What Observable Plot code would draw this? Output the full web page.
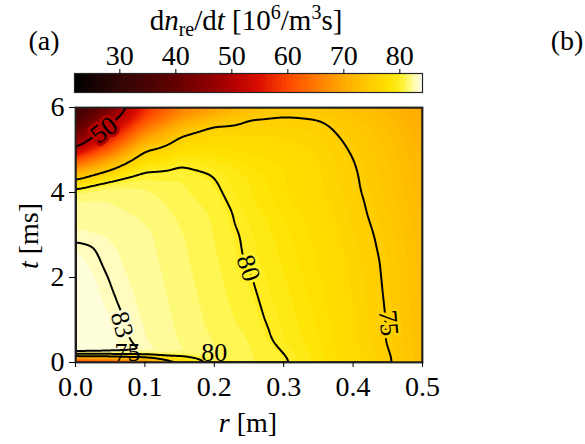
<!DOCTYPE html>
<html><head><meta charset="utf-8">
<script src="https://cdn.jsdelivr.net/npm/d3@7"></script>
<script src="https://cdn.jsdelivr.net/npm/@observablehq/plot@0.6"></script>
<style>
body{margin:0;background:#fff}
#wrap{position:relative;width:585px;height:444px;overflow:hidden;font-family:"Liberation Serif",serif}
#wrap svg{position:absolute;left:0;top:0}
</style></head><body><div id="wrap"></div>
<script>
// grid coordinates
const rValues = [0, 0.05, 0.1, 0.15, 0.2, 0.25, 0.3, 0.35, 0.4, 0.45, 0.5];
const tValues = [0, 0.08, 0.5, 1, 1.5, 2, 2.5, 3, 3.5, 4, 4.25, 4.5, 4.75, 5, 5.25, 5.5, 5.75, 6];
// dn_re/dt [10^6/m^3 s], one row per t value, columns follow rValues
const rate_t0_00 = [22, 28, 40, 65, 79.5, 81, 80.3, 78.6, 76.8, 75.3, 72.8];
const rate_t0_08 = [83.6, 83.5, 83.1, 82.3, 81.5, 80.9, 80.2, 78.7, 76.9, 75.3, 72.8];
const rate_t0_50 = [83.9, 83.4, 82.7, 82.0, 81.4, 80.8, 79.6, 78.4, 76.7, 74.9, 72.8];
const rate_t1_00 = [83.9, 83.3, 82.6, 81.9, 81.2, 80.5, 79.4, 78.2, 76.6, 74.9, 72.6];
const rate_t1_50 = [83.8, 83.1, 82.5, 81.8, 81.1, 80.3, 79.2, 78.0, 76.4, 74.8, 72.5];
const rate_t2_00 = [83.7, 82.95, 82.4, 81.7, 81.0, 80.1, 79.0, 77.8, 76.3, 74.7, 72.4];
const rate_t2_50 = [83.4, 82.8, 82.3, 81.6, 80.9, 79.8, 78.8, 77.6, 76.1, 74.6, 72.3];
const rate_t3_00 = [82.8, 82.6, 82.2, 81.5, 80.8, 79.7, 78.6, 77.4, 75.9, 74.4, 72.2];
const rate_t3_50 = [82.3, 82.2, 81.9, 81.3, 80.7, 79.4, 78.3, 77.1, 75.6, 74.1, 72.0];
const rate_t4_00 = [81.8, 81.9, 81.6, 81.0, 80.3, 79.0, 77.8, 76.6, 75.4, 73.7, 71.7];
const rate_t4_25 = [76.2, 80.6, 81.0, 80.9, 80.1, 79.0, 77.8, 76.6, 75.3, 73.6, 71.6];
const rate_t4_50 = [69.5, 75.6, 80.1, 80.4, 79.85, 78.6, 77.7, 76.6, 75.2, 73.6, 71.5];
const rate_t4_75 = [61, 70, 77.8, 79.6, 78.9, 78.1, 77.4, 76.5, 75.05, 73.4, 71.4];
const rate_t5_00 = [51, 63, 74.8, 77.8, 77.9, 77.5, 77.0, 76.3, 74.8, 73.2, 71.2];
const rate_t5_25 = [45, 57, 70, 75.7, 76.8, 76.8, 76.5, 76.0, 74.5, 73.0, 71.0];
const rate_t5_50 = [40, 51.5, 65, 72.5, 75.8, 76.0, 76.0, 75.6, 74.1, 72.7, 70.7];
const rate_t5_75 = [35, 47, 60, 68, 72.5, 74.9, 75.3, 74.9, 73.6, 72.3, 70.3];
const rate_t6_00 = [30, 43, 57, 65, 68, 72, 73.5, 73.6, 72.8, 71.6, 69.8];

const lineLevels = [50, 75, 80, 83];
const contourLabels = [
  {level: 50, r: 0.041, t: 5.47, angle: -37},
  {level: 80, r: 0.249, t: 2.22, angle: 72},
  {level: 75, r: 0.451, t: 0.93, angle: 85},
  {level: 83, r: 0.067, t: 0.89, angle: 75}
];
const bottomLabels = [
  {level: 75, r: 0.075, t: 0.22},
  {level: 80, r: 0.2, t: 0.22}
];
const xTicks = [0, 0.1, 0.2, 0.3, 0.4, 0.5];
const yTicks = [0, 2, 4, 6];
const cbarTicks = [30, 40, 50, 60, 70, 80];
const cbarDomain = [21.9, 84.05];
const colorStops = [21.9, 26, 30, 35, 40, 45, 50, 55, 60, 65, 70, 75, 78, 80, 81, 82, 83, 84.05];
const colorValues = ["#000000","#1c0303","#330505","#4a0202","#660000","#880000","#b30000","#dd1000","#ff4a00","#ff7c00","#ffad00","#ffd000","#ffe200","#fff02a","#fff760","#fffb98","#fffdd0","#fffff4"];

const rows = [rate_t0_00, rate_t0_08, rate_t0_50, rate_t1_00, rate_t1_50, rate_t2_00, rate_t2_50, rate_t3_00, rate_t3_50, rate_t4_00, rate_t4_25, rate_t4_50, rate_t4_75, rate_t5_00, rate_t5_25, rate_t5_50, rate_t5_75, rate_t6_00];
const points = tValues.flatMap((t, i) => rValues.map((r, j) => ({r, t, v: rows[i][j]})));
const fillLevels = d3.range(cbarDomain[0], cbarDomain[1], 0.62);

const color = {type: "linear", domain: colorStops, range: colorValues, interpolate: "rgb"};
const font = {fontFamily: "Liberation Serif, serif", fontSize: "28px", background: "transparent", color: "black"};
const wrap = document.getElementById("wrap");

const main = Plot.plot({
  width: 585, height: 444,
  marginLeft: 75, marginRight: 163, marginTop: 107, marginBottom: 82,
  style: font,
  x: {domain: [0, 0.5]},
  y: {domain: [0, 6]},
  color,
  marks: [
    Plot.contour(points, {x: "r", y: "t", fill: "v", interpolate: "barycentric", thresholds: fillLevels, stroke: "none", pixelSize: 1, blur: 4}),
    Plot.contour(points, {x: "r", y: "t", value: "v", interpolate: "barycentric", thresholds: lineLevels,
      stroke: "black", strokeWidth: 2, fill: "none", clip: true, pixelSize: 1, blur: 4}),
    Plot.text(contourLabels, {x: "r", y: "t", text: d => String(d.level), rotate: "angle",
      fill: "black", stroke: "level", strokeWidth: 6, paintOrder: "stroke", fontSize: 26}),
    Plot.text(bottomLabels, {x: "r", y: "t", text: d => String(d.level), fill: "black", fontSize: 26}),
    Plot.frame({stroke: "#222", strokeWidth: 1.8}),
    Plot.axisX({ticks: xTicks, tickFormat: d3.format(".1f"), tickSize: 5, tickPadding: 9, label: null}),
    Plot.axisY({ticks: yTicks, tickFormat: d3.format("d"), tickSize: 6, tickPadding: 5, label: null})
  ]
});
wrap.appendChild(main);

const cbar = Plot.plot({
  width: 585, height: 100,
  marginLeft: 74, marginRight: 163, marginTop: 73, marginBottom: 8,
  style: font,
  x: {domain: cbarDomain},
  y: {domain: [0, 1], axis: null},
  color,
  marks: [
    Plot.rect(fillLevels, {x1: d => d, x2: (d, i) => fillLevels[i + 1] ?? cbarDomain[1], y1: 0, y2: 1, fill: d => d, shapeRendering: "crispEdges"}),
    Plot.frame({stroke: "#262626", strokeWidth: 1.2}),
    Plot.axisX({anchor: "top", ticks: cbarTicks, tickSize: 5, tickPadding: 4, label: null})
  ]
});
wrap.appendChild(cbar);

// overlay text: title, panel tags, axis labels
const ov = d3.select(wrap).append("svg").attr("width", 585).attr("height", 444)
  .style("font-family", "Liberation Serif, serif").style("font-size", "28px");
const title = ov.append("text").attr("x", 246).attr("y", 30).attr("text-anchor", "middle").style("font-size", "29px");
title.append("tspan").text("d");
title.append("tspan").attr("font-style", "italic").text("n");
title.append("tspan").attr("dy", 6).style("font-size", "20px").text("re");
title.append("tspan").attr("dy", -6).text("/d");
title.append("tspan").attr("font-style", "italic").text("t");
title.append("tspan").text("\u00a0[10");
title.append("tspan").attr("dy", -11).style("font-size", "20px").text("6");
title.append("tspan").attr("dy", 11).text("/m");
title.append("tspan").attr("dy", -11).style("font-size", "20px").text("3");
title.append("tspan").attr("dy", 11).text("s]");

ov.append("text").attr("x", 44).attr("y", 50).attr("text-anchor", "middle").text("(a)");
ov.append("text").attr("x", 567).attr("y", 50).attr("text-anchor", "middle").text("(b)");

const xl = ov.append("text").attr("x", 248).attr("y", 432).attr("text-anchor", "middle");
xl.append("tspan").attr("font-style", "italic").text("r");
xl.append("tspan").text("\u00a0[m]");

const yl = ov.append("text").attr("transform", "translate(38,236) rotate(-90)").attr("text-anchor", "middle");
yl.append("tspan").attr("font-style", "italic").text("t");
yl.append("tspan").text("\u00a0[ms]");
</script></body></html>
